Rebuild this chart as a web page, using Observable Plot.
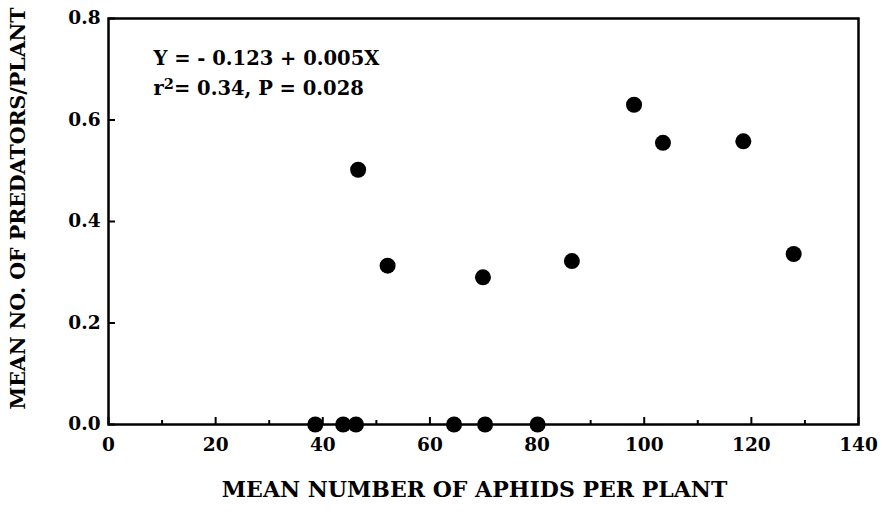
<!DOCTYPE html>
<html>
<head>
<meta charset="utf-8">
<script src="https://cdn.jsdelivr.net/npm/d3@7"></script>
<script src="https://cdn.jsdelivr.net/npm/@observablehq/plot@0.6"></script>
<style>
  html, body { margin: 0; padding: 0; background: #fff; }
  #chart { width: 884px; height: 521px; }
</style>
</head>
<body>
<div id="chart"></div>
<script>
// Data
const aphids    = [38.6, 43.8, 46.2, 64.5, 70.3, 80.1, 46.6, 52.1, 69.9, 86.5, 98.1, 103.5, 118.5, 127.9];
const predators = [0.0,  0.0,  0.0,  0.0,  0.0,  0.0,  0.502, 0.313, 0.290, 0.322, 0.630, 0.555, 0.558, 0.336];
const xMajorTicks = [0, 20, 40, 60, 80, 100, 120, 140];
const xMinorTicks = [10, 30, 50, 70, 90, 110, 130];
const yTicks = [0.0, 0.2, 0.4, 0.6, 0.8];
const annotation = ["Y = - 0.123 + 0.005X", "r2= 0.34, P = 0.028"];
const xTitle = "MEAN NUMBER OF APHIDS PER PLANT";
const yTitle = "MEAN NO. OF PREDATORS/PLANT";

const points = aphids.map((a, i) => ({aphids: a, predators: predators[i]}));

const chart = Plot.plot({
  width: 884,
  height: 521,
  marginLeft: 108,
  marginRight: 26,
  marginTop: 18,
  marginBottom: 97,
  style: {fontFamily: "'DejaVu Serif', serif", fontWeight: "bold", fontSize: "18px", color: "#000", background: "#fff"},
  x: {domain: [0, 140]},
  y: {domain: [0, 0.8]},
  marks: [
    Plot.frame({stroke: "#000", strokeWidth: 2.5}),
    Plot.axisX(xMajorTicks, {tickSize: -7, strokeWidth: 2, text: null, label: null}),
    Plot.axisX(xMinorTicks, {tickSize: -4, strokeWidth: 2, text: null, label: null}),
    Plot.axisX(xMajorTicks, {tickSize: 0, tickPadding: 13, tickFormat: d => String(d), fontSize: 18.5,
      label: null}),
    Plot.axisY(yTicks, {tickSize: -7, strokeWidth: 2, text: null, label: null}),
    Plot.axisY(yTicks, {tickSize: 0, tickPadding: 8, tickFormat: d => d.toFixed(1), fontSize: 18.5, label: null}),
    Plot.text([xTitle], {frameAnchor: "bottom", textAnchor: "middle", dx: -9, dy: 72, fontSize: 22}),
    Plot.text([yTitle], {frameAnchor: "left", textAnchor: "middle", rotate: -90, dx: -90, dy: -13, fontSize: 20.5}),
    Plot.dot(points, {x: "aphids", y: "predators", r: 8, fill: "#000", stroke: null}),
    Plot.text(annotation.slice(0, 1), {frameAnchor: "top-left", textAnchor: "start", dx: 45, dy: 33, fontSize: 19.5, className: "eq1"}),
    Plot.text(annotation.slice(1, 2), {frameAnchor: "top-left", textAnchor: "start", dx: 45, dy: 63, fontSize: 19.5, className: "eq2"})
  ]
});
document.getElementById("chart").appendChild(chart);

// Render "r2" with a real superscript 2
const t = chart.querySelector("g.eq2 text");
if (t) {
  const txt = t.textContent;
  const ns = "http://www.w3.org/2000/svg";
  t.textContent = "";
  t.appendChild(document.createTextNode(txt.slice(0, 1)));
  const sup = document.createElementNS(ns, "tspan");
  sup.setAttribute("dy", "-0.45em");
  sup.setAttribute("font-size", "0.75em");
  sup.textContent = txt.slice(1, 2);
  t.appendChild(sup);
  const rest = document.createElementNS(ns, "tspan");
  rest.setAttribute("dy", "0.34em");
  rest.textContent = txt.slice(2);
  t.appendChild(rest);
}
</script>
</body>
</html>
